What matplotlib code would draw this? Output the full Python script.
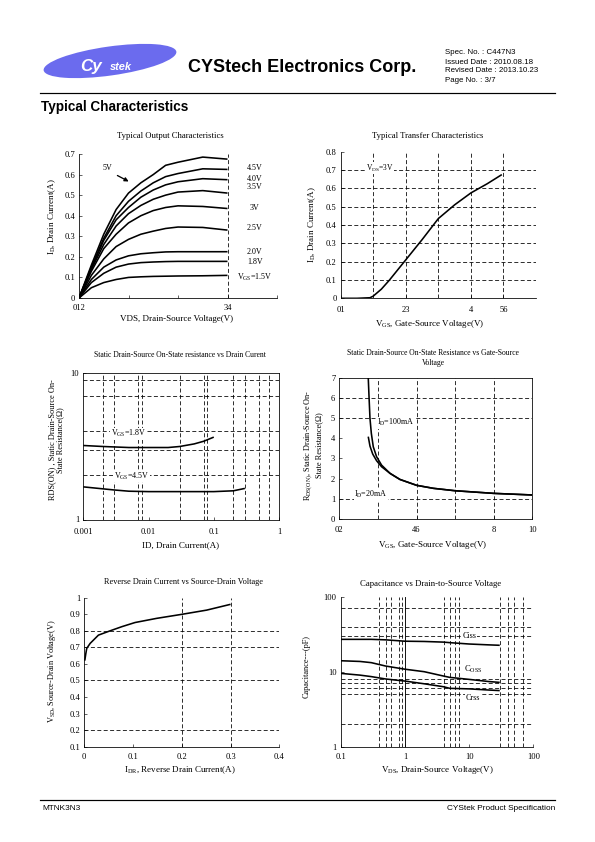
import numpy as np
import matplotlib.pyplot as plt
from matplotlib.patches import Ellipse

# ---- data ----
# output characteristics (ID vs VDS for several VGS)
vds = [0, 0.25, 0.5, 0.75, 1.0, 1.25, 1.5, 1.75, 2.0, 2.5, 3.0]
id_5v0 = [0, 0.16, 0.31, 0.43, 0.51, 0.56, 0.60, 0.645, 0.66, 0.685, 0.675]
id_4v5 = [0, 0.15, 0.29, 0.40, 0.47, 0.52, 0.56, 0.59, 0.605, 0.628, 0.625]
id_4v0 = [0, 0.145, 0.28, 0.38, 0.44, 0.49, 0.525, 0.55, 0.565, 0.58, 0.575]
id_3v5 = [0, 0.14, 0.26, 0.35, 0.41, 0.45, 0.48, 0.50, 0.515, 0.522, 0.51]
id_3v0 = [0, 0.13, 0.24, 0.31, 0.365, 0.40, 0.425, 0.44, 0.448, 0.445, 0.435]
id_2v5 = [0, 0.11, 0.19, 0.25, 0.285, 0.31, 0.325, 0.338, 0.345, 0.343, 0.33]
id_2v0 = [0, 0.09, 0.15, 0.185, 0.205, 0.215, 0.22, 0.224, 0.225, 0.225, 0.225]
id_1v8 = [0, 0.075, 0.12, 0.15, 0.165, 0.172, 0.175, 0.177, 0.178, 0.178, 0.178]
id_1v5 = [0, 0.05, 0.075, 0.09, 0.10, 0.103, 0.105, 0.106, 0.107, 0.108, 0.11]
out_labels = ['4.5V', '4.0V', '3.5V', '3V', '2.5V', '2.0V', '1.8V', 'V$_{\\rm GS}$=1.5V']
out_label_y = [0.632, 0.58, 0.542, 0.438, 0.342, 0.224, 0.175, 0.098]

# transfer characteristics
vgs_tr = [0, 0.5, 0.9, 1.0, 1.25, 1.5, 2.0, 2.5, 3.0, 3.5, 4.0, 4.5, 4.95]
id_tr = [0, 0, 0.003, 0.012, 0.05, 0.1, 0.21, 0.32, 0.435, 0.51, 0.575, 0.625, 0.675]

# RDS(on) vs ID
id_r18 = [0.001, 0.002, 0.005, 0.01, 0.02, 0.03, 0.05, 0.07, 0.1]
rds_18 = [3.2, 3.15, 3.1, 3.1, 3.1, 3.15, 3.28, 3.42, 3.65]
id_r45 = [0.001, 0.003, 0.005, 0.01, 0.03, 0.1, 0.2, 0.3]
rds_45 = [1.67, 1.59, 1.56, 1.55, 1.55, 1.55, 1.57, 1.63]

# RDS(on) vs VGS
vgs_100 = [1.5, 1.54, 1.59, 1.66, 1.76, 1.93, 2.19, 2.63, 3.14, 4.0, 4.87, 6.0, 8.0, 10.0]
rds_100 = [7.0, 6.06, 4.98, 4.24, 3.58, 3.09, 2.67, 2.26, 1.96, 1.67, 1.52, 1.40, 1.27, 1.19]
vgs_20 = [1.5, 1.59, 1.73, 1.93, 2.19, 2.63, 3.14, 4.0, 4.87, 6.0, 8.0, 10.0]
rds_20 = [4.08, 3.61, 3.22, 2.89, 2.59, 2.26, 1.96, 1.67, 1.52, 1.40, 1.27, 1.19]

# body diode
idr = [0.001, 0.003, 0.005, 0.012, 0.029, 0.053, 0.077, 0.104, 0.148, 0.201, 0.251, 0.3]
vsd = [0.62, 0.66, 0.694, 0.724, 0.774, 0.80, 0.825, 0.85, 0.875, 0.90, 0.925, 0.96]

# capacitance
vds_c = [0.1, 0.2, 0.3, 0.5, 1, 2, 4, 5, 10, 20, 30]
ciss = [27, 27, 27, 26.6, 25.5, 25.3, 24.8, 24.4, 23.4, 22.8, 22.5]
coss = [14, 13.7, 13.2, 11.9, 10.8, 10.0, 8.75, 8.4, 7.9, 7.4, 7.2]
crss = [9.5, 9.0, 8.6, 8.0, 7.5, 6.9, 6.3, 6.0, 5.9, 5.7, 5.6]

plt.rcParams['font.family'] = ['Liberation Serif', 'DejaVu Serif']
plt.rcParams['mathtext.fontset'] = 'custom'
plt.rcParams['mathtext.rm'] = 'Liberation Serif'
plt.rcParams['mathtext.it'] = 'Liberation Serif:italic'
plt.rcParams['mathtext.bf'] = 'Liberation Serif:bold'

W, H = 595, 842
fig = plt.figure(figsize=(W / 72, H / 72), dpi=72)

# page-sized axes, data units = pixels from top-left
page = fig.add_axes([0, 0, 1, 1])
page.set_xlim(0, W)
page.set_ylim(H, 0)
page.axis('off')

GRID = dict(color='k', lw=0.8, ls=(0, (5, 3)), zorder=1)
CURVE = dict(color='k', lw=1.6, zorder=3, solid_capstyle='butt')
FS = 8.5
XL = 9
WHITE = dict(facecolor='white', edgecolor='none', pad=0.5)


def box(l, t, r, b, frame=False, pad=6):
    ax = fig.add_axes([l / W, 1 - b / H, (r - l) / W, (b - t) / H])
    ax.set_facecolor('none')
    for s in ['top', 'right']:
        ax.spines[s].set_visible(frame)
    for s in ax.spines.values():
        s.set_linewidth(0.8)
    ax.tick_params(direction='in', length=3, width=0.6, labelsize=FS)
    ax.tick_params(axis='x', pad=pad)
    ax.tick_params(axis='y', pad=4)
    return ax


def ptext(x, y, s, **kw):
    kw.setdefault('fontsize', FS)
    kw.setdefault('ha', 'center')
    kw.setdefault('va', 'center')
    page.text(x, y, s, **kw)


def fmt(vals):
    return ['%g' % v for v in vals]


# ---------------- header ----------------
page.add_patch(Ellipse((110, 61), 134, 29, angle=-8, facecolor='#6b6bee', edgecolor='none'))
page.text(80, 66, 'Cy', color='white', fontsize=17, fontweight='bold', fontstyle='italic',
          family='Liberation Sans', ha='left', va='center')
page.text(110, 67, 'stek', color='white', fontsize=11, fontweight='bold', fontstyle='italic',
          family='Liberation Sans', ha='left', va='center')
page.text(188, 68, 'CYStech Electronics Corp.', fontsize=18, fontweight='bold',
          family='Liberation Sans', ha='left', va='center')
spec = ['Spec. No. : C447N3', 'Issued Date : 2010.08.18', 'Revised Date : 2013.10.23', 'Page No. : 3/7']
for i, s in enumerate(spec):
    page.text(445, 53 + i * 9, s, fontsize=7.9, family='Liberation Sans', ha='left', va='center')
page.plot([40, 555], [93, 93], color='k', lw=1.2)
page.text(41, 107, 'Typical Characteristics', fontsize=13.5, fontweight='bold',
          family='Liberation Sans', ha='left', va='center')

# footer
page.plot([40, 555], [800, 800], color='k', lw=1.2)
page.text(42, 809, 'MTNK3N3', fontsize=8.3, family='Liberation Sans', ha='left', va='center')
page.text(555, 809, 'CYStek Product Specification', fontsize=8.3, family='Liberation Sans',
          ha='right', va='center')

# ---------------- 1: output characteristics ----------------
ax1 = box(79, 154, 277, 298)
for ys in [id_5v0, id_4v5, id_4v0, id_3v5, id_3v0, id_2v5, id_2v0, id_1v8, id_1v5]:
    ax1.plot(vds, ys, **CURVE)
ax1.axvline(3, **GRID)
ax1.set_xlim(0, 4)
ax1.set_ylim(0, 0.7)
ax1.set_xticks([0, 1, 2, 3, 4])
ax1.set_xticklabels(['012', '', '', '34', ''])
yt = np.round(np.arange(0, 0.71, 0.1), 1)
ax1.set_yticks(yt)
ax1.set_yticklabels(fmt(yt))
for s, y in zip(out_labels, out_label_y):
    ax1.text(3.55, y, s, fontsize=8, ha='center', va='center')
ax1.annotate('', xy=(1.04, 0.562), xytext=(0.74, 0.60),
             arrowprops=dict(arrowstyle='-|>', color='k', lw=1.3, mutation_scale=8))
ax1.text(0.58, 0.632, '5V', fontsize=8, ha='center', va='center')
ptext(170, 136, 'Typical Output Characteristics', fontsize=8.6)
ptext(177, 319, 'VDS, Drain-Source Voltage(V)', fontsize=XL)
ptext(52, 217, 'I$_{\\rm D}$, Drain Current(A)', fontsize=9, rotation=90)

# ---------------- 2: transfer characteristics ----------------
ax2 = box(340.7, 151.7, 536, 298.3, pad=8)
for x in [1, 2, 3, 4, 5]:
    ax2.axvline(x, **GRID)
for y in np.arange(0.1, 0.75, 0.1):
    ax2.axhline(y, **GRID)
ax2.plot(vgs_tr, id_tr, **CURVE)
ax2.set_xlim(0, 6)
ax2.set_ylim(0, 0.8)
ax2.set_xticks([0, 2, 4, 5])
ax2.set_xticklabels(['01', '23', '4', '56'])
yt = np.round(np.arange(0, 0.81, 0.1), 1)
ax2.set_yticks(yt)
ax2.set_yticklabels(fmt(yt))
ax2.text(1.2, 0.71, 'V$_{\\rm DS}$=3V', fontsize=7.5, ha='center', va='center', bbox=WHITE, zorder=4)
ptext(428, 136, 'Typical Transfer Characteristics', fontsize=8.6)
ptext(430, 324, 'V$_{\\rm GS}$, Gate-Source Voltage(V)', fontsize=XL)
ptext(312, 225, 'I$_{\\rm D}$, Drain Current(A)', fontsize=9, rotation=90)

# ---------------- 3: RDS(on) vs ID ----------------
ax3 = box(83.3, 373, 279, 519.5, frame=True, pad=8)
ax3.set_xscale('log')
ax3.set_yscale('log')
for x in [0.002, 0.003, 0.007, 0.008, 0.03, 0.07, 0.08, 0.2, 0.3, 0.5, 0.7]:
    ax3.axvline(x, **GRID)
for y in [2, 3, 4, 7, 9]:
    ax3.axhline(y, **GRID)
ax3.plot(id_r18, rds_18, **CURVE)
ax3.plot(id_r45, rds_45, **CURVE)
ax3.set_xlim(0.001, 1)
ax3.set_ylim(1, 10)
ax3.set_xticks([0.001, 0.01, 0.1, 1])
ax3.set_xticklabels(['0.001', '0.01', '0.1', '1'])
ax3.set_yticks([1, 10])
ax3.set_yticklabels(['1', '10'])
ax3.minorticks_off()
ax3.text(0.0049, 3.85, 'V$_{\\rm GS}$=1.8V', fontsize=8, ha='center', va='center', bbox=WHITE, zorder=4)
ax3.text(0.0055, 1.98, 'V$_{\\rm GS}$=4.5V', fontsize=8, ha='center', va='center', bbox=WHITE, zorder=4)
ptext(180, 355, 'Static Drain-Source On-State resistance vs Drain Curent', fontsize=7.6)
ptext(181, 545, 'ID, Drain Current(A)', fontsize=XL)
ptext(56, 440, 'RDS(ON) , Static Drain-Source On-\nState Resistance(\u03a9)', fontsize=8.3,
      rotation=90, linespacing=1.1)

# ---------------- 4: RDS(on) vs VGS ----------------
ax4 = box(339.3, 377.7, 532.3, 519, frame=True, pad=7)
for x in [2, 4, 6, 8]:
    ax4.axvline(x, **GRID)
for y in [1, 5, 6]:
    ax4.axhline(y, **GRID)
ax4.plot(vgs_100, rds_100, **CURVE)
ax4.plot(vgs_20, rds_20, **CURVE)
ax4.set_xlim(0, 10)
ax4.set_ylim(0, 7)
ax4.set_xticks([0, 4, 8, 10])
ax4.set_xticklabels(['02', '46', '8', '10'])
ax4.set_yticks(range(8))
ax4.text(2.9, 4.77, 'I$_{\\rm D}$=100mA', fontsize=8, ha='center', va='center', bbox=WHITE, zorder=4)
ax4.text(1.65, 1.2, 'I$_{\\rm D}$=20mA', fontsize=8, ha='center', va='center', bbox=WHITE, zorder=4)
ptext(433, 353, 'Static Drain-Source On-State Resistance vs Gate-Source', fontsize=7.6)
ptext(433, 363, 'Voltage', fontsize=7.6)
ptext(433, 545, 'V$_{\\rm GS}$, Gate-Source Voltage(V)', fontsize=XL)
ptext(313, 445, 'R$_{\\rm DS(ON)}$, Static Drain-Source On-\nState Resistance(\u03a9)', fontsize=8.3,
      rotation=90, linespacing=1.1)

# ---------------- 5: VSD vs IDR ----------------
ax5 = box(84.3, 597.7, 279.3, 746.7)
for x in [0.2, 0.3]:
    ax5.axvline(x, **GRID)
for y in [0.2, 0.5, 0.7, 0.8]:
    ax5.axhline(y, **GRID)
ax5.plot(idr, vsd, **CURVE)
ax5.set_xlim(0, 0.4)
ax5.set_ylim(0.1, 1)
xt = [0, 0.1, 0.2, 0.3, 0.4]
ax5.set_xticks(xt)
ax5.set_xticklabels(fmt(xt))
yt = np.round(np.arange(0.1, 1.01, 0.1), 1)
ax5.set_yticks(yt)
ax5.set_yticklabels(fmt(yt))
ptext(183, 582, 'Reverse Drain Current vs Source-Drain Voltage', fontsize=8.3)
ptext(180, 770, 'I$_{\\rm DR}$, Reverse Drain Current(A)', fontsize=XL)
ptext(52, 671, 'V$_{\\rm SD}$, Source-Drain Voltage(V)', fontsize=8.2, rotation=90)

# ---------------- 6: capacitance ----------------
ax6 = box(340.7, 596.7, 533.3, 746.7)
ax6.set_xscale('log')
ax6.set_yscale('log')
for x in [0.4, 0.5, 0.6, 0.8, 0.9, 4, 5, 6, 7, 30, 40, 50, 70]:
    ax6.axvline(x, **GRID)
ax6.axvline(1, color='k', lw=0.9, zorder=1)
for y in [2, 5, 6, 7, 8, 30, 40, 70]:
    ax6.axhline(y, **GRID)
ax6.plot(vds_c, ciss, **CURVE)
ax6.plot(vds_c, coss, **CURVE)
ax6.plot(vds_c, crss, **CURVE)
ax6.set_xlim(0.1, 100)
ax6.set_ylim(1, 100)
ax6.set_xticks([0.1, 1, 10, 100])
ax6.set_xticklabels(['0.1', '1', '10', '100'])
ax6.set_yticks([1, 10, 100])
ax6.set_yticklabels(['1', '10', '100'])
ax6.minorticks_off()
ax6.text(10, 30, 'Ciss', fontsize=8, ha='center', va='center', bbox=WHITE, zorder=4)
ax6.text(11.5, 10.8, 'C$_{\\rm OSS}$', fontsize=8.5, ha='center', va='center', bbox=WHITE, zorder=4)
ax6.text(11.5, 4.5, 'Crss', fontsize=8, ha='center', va='center', bbox=WHITE, zorder=4)
ptext(431, 584, 'Capacitance vs Drain-to-Source Voltage', fontsize=8.8)
ptext(437, 770, 'V$_{\\rm DS}$, Drain-Source Voltage(V)', fontsize=XL)
ptext(307, 667, 'Capacitance---(pF)', fontsize=8.3, rotation=90)

fig.savefig('out.png', dpi=72)
